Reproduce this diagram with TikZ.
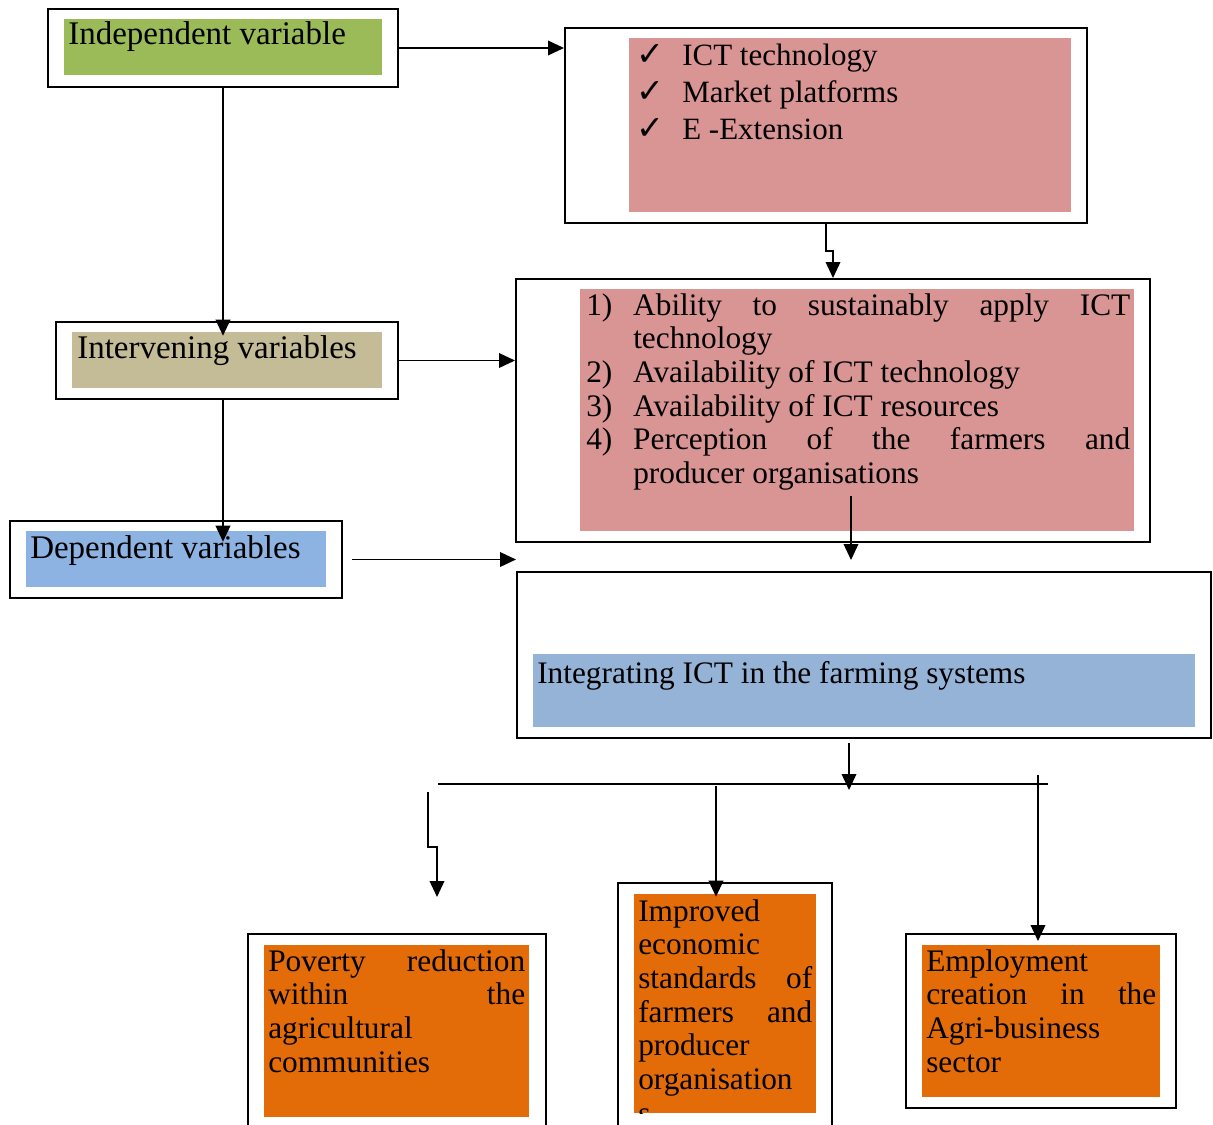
\documentclass[tikz,border=0pt]{standalone}
\usepackage{fontspec}
\setmainfont{Liberation Serif}
\newfontfamily\symfont{DejaVu Sans}
\usetikzlibrary{arrows.meta,fit,calc}

\definecolor{indepgreen}{HTML}{9BBB59}
\definecolor{pinkfill}{HTML}{D99594}
\definecolor{tanfill}{HTML}{C4BC96}
\definecolor{depblue}{HTML}{8DB3E2}
\definecolor{integblue}{HTML}{95B3D7}
\definecolor{orangefill}{HTML}{E36C09}

% tick mark used in the checklist
\newcommand{\tickmark}{\makebox[34.5pt][l]{{\symfont\fontsize{25pt}{25pt}\selectfont ✓}}}
% a line spread to a fixed width
\newcommand{\spreadline}[2]{\makebox[#1][s]{#2}}

\begin{document}
\begin{tikzpicture}[x=0.75pt,y=-0.75pt,
  frame/.style={draw=black,line width=1.5pt,inner sep=0pt},
  panel/.style={inner sep=0pt,draw=none},
  conn/.style={line width=1.1pt},
  arr/.style={conn,-{Triangle[length=12pt,width=11pt]}},
  txt/.style={inner sep=0pt,anchor=base west},
  head/.style={txt,font=\fontsize{24.75pt}{27pt}\selectfont},
  body/.style={txt,font=\fontsize{23.5pt}{25.3pt}\selectfont},
]
\clip (0,0) rectangle (1213,1124);
\fill[white] (0,0) rectangle (1213,1124);

% ---- independent variable
\node[frame,fit={(48,9)(398,87)}] (indep) {};
\node[panel,fill=indepgreen,fit={(64,19)(382,75)}] (indepIn) {};
\node[head] (indepT) at (68,45) {Independent variable};

% ---- checklist
\node[frame,fit={(565,28)(1087,223)}] (chk) {};
\node[panel,fill=pinkfill,fit={(629,38)(1071,212)}] (chkIn) {};
\node[txt,font=\fontsize{23.25pt}{27.4pt}\selectfont] (chkT) at (636,66)
  {\begin{tabular}[t]{@{}l@{}}
   \tickmark ICT technology\\
   \tickmark Market platforms\\
   \tickmark E -Extension
   \end{tabular}};

% ---- intervening list
\node[frame,fit={(516,279)(1150,542)}] (interv) {};
\node[panel,fill=pinkfill,fit={(580,289)(1134,531)}] (intervIn) {};
\node[body] (intervT) at (586,315)
  {\begin{tabular}[t]{@{}l@{}l@{}}
   \makebox[35.25pt][l]{1)} & \spreadline{372.75pt}{Ability to sustainably apply ICT}\\
   & technology\\
   \makebox[35.25pt][l]{2)} & Availability of ICT technology\\
   \makebox[35.25pt][l]{3)} & Availability of ICT resources\\
   \makebox[35.25pt][l]{4)} & \spreadline{372.75pt}{Perception of the farmers and}\\
   & producer organisations
   \end{tabular}};

% ---- intervening variables
\node[frame,fit={(56,322)(398,399)}] (ivar) {};
\node[panel,fill=tanfill,fit={(72,332)(382,388)}] (ivarIn) {};
\node[head] (ivarT) at (77,358) {Intervening variables};

% ---- dependent variables
\node[frame,fit={(10,521)(342,598)}] (dep) {};
\node[panel,fill=depblue,fit={(26,531)(326,587)}] (depIn) {};
\node[head] (depT) at (30,558) {Dependent variables};

% ---- integrating ICT
\node[frame,fit={(517,572)(1211,738)}] (integ) {};
\node[panel,fill=integblue,fit={(533,654)(1195,727)}] (integIn) {};
\node[body] (integT) at (537,683) {Integrating ICT in the farming systems};

% ---- outcomes
\node[frame,fit={(248,934)(546,1140)}] (pov) {};
\node[panel,fill=orangefill,fit={(264,945)(529,1117)}] (povIn) {};
\node[body] (povT) at (268,971)
  {\begin{tabular}[t]{@{}l@{}}
   \spreadline{192.75pt}{Poverty reduction}\\
   \spreadline{192.75pt}{within the}\\
   agricultural\\
   communities
   \end{tabular}};

\node[frame,fit={(618,883)(832,1140)}] (econ) {};
\node[panel,fill=orangefill,fit={(634,894)(816,1113)}] (econIn) {};
\begin{scope}
  \clip (econIn.north west) rectangle (econIn.south east);
  \node[body] (econT) at (638,921)
    {\begin{tabular}[t]{@{}l@{}}
     Improved\\
     economic\\
     \spreadline{130.5pt}{standards of}\\
     \spreadline{130.5pt}{farmers and}\\
     producer\\
     organisation\\
     s
     \end{tabular}};
\end{scope}

\node[frame,fit={(906,934)(1176,1108)}] (emp) {};
\node[panel,fill=orangefill,fit={(922,945)(1160,1097)}] (empIn) {};
\node[body] (empT) at (926,971)
  {\begin{tabular}[t]{@{}l@{}}
   Employment\\
   \spreadline{172.5pt}{creation in the}\\
   Agri-business\\
   sector
   \end{tabular}};

% ---- connectors
\draw[arr] (indep.east) -- (indep.east -| chk.west);
\draw[arr] (chk.south) -- ++(0,27) -| (interv.north);
\draw[arr] (indep.south) -- ($(indep.south |- ivarIn.north)+(0,4)$);
\draw[arr] (ivar.east) -- (ivar.east -| interv.west);
\draw[arr] (ivar.south -| indep.south) -- ($(indep.south |- depIn.north)+(0,11)$);
\draw[arr] ($(dep.east)+(9,0)$) -- (dep.east -| integ.west);

\coordinate (dropTop) at (851,496);
\coordinate (dropEnd) at (851,560);
\draw[arr] (dropTop) -- (dropEnd);

\coordinate (busIn) at (849,743);
\coordinate (busTip) at (849,790);
\draw[arr] (busIn) -- (busTip);
\coordinate (busL) at (438,784);
\coordinate (busR) at (1048,784);
\draw[conn] (busL) -- (busR);

\coordinate (legL) at (428,792);
\draw[arr] (legL) -- ++(0,55) -- ++(9,0) -- ++(0,50);
\coordinate (legM) at (716,786);
\draw[arr] (legM) -- ($(legM |- econIn.north)+(0,3)$);
\coordinate (legR) at (1038,775);
\draw[arr] (legR) -- ($(legR |- emp.north)+(0,8)$);
\end{tikzpicture}
\end{document}
